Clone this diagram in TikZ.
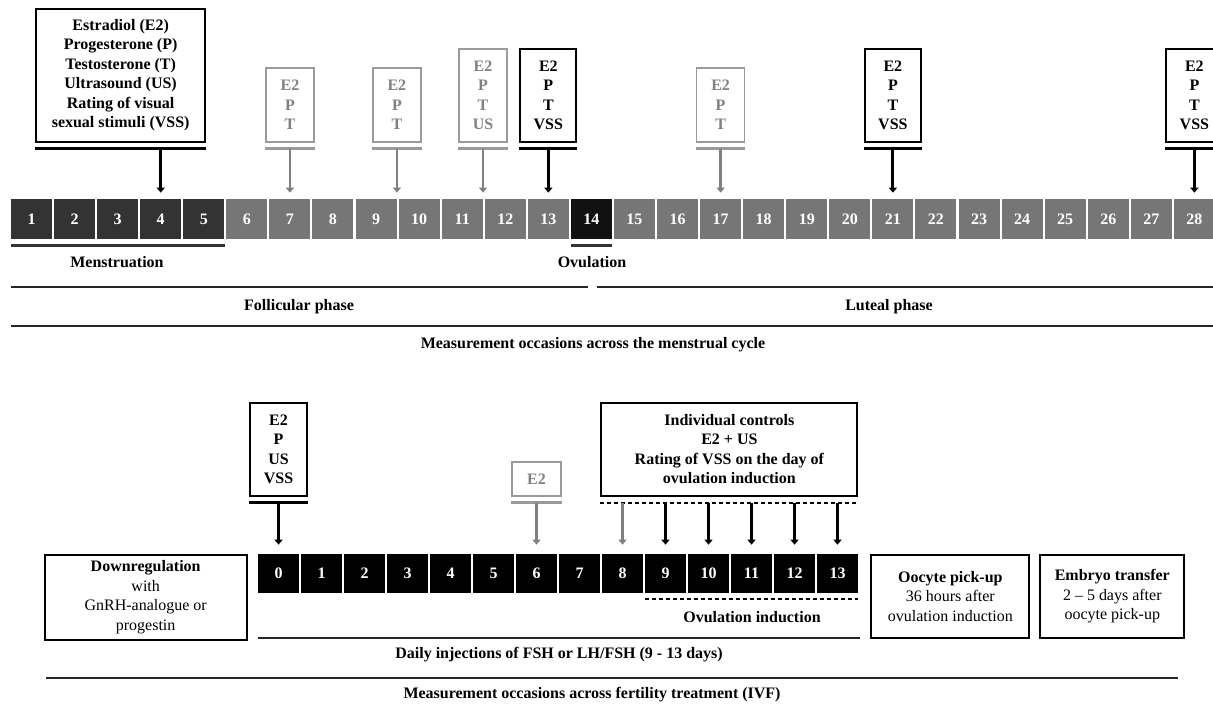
\documentclass[tikz,border=0pt]{standalone}
\usepackage{fontspec}
\setmainfont{Liberation Serif}
\usetikzlibrary{arrows.meta, positioning, calc}
\definecolor{menses}{HTML}{333333}
\definecolor{cycle}{HTML}{767676}
\definecolor{ovul}{HTML}{111111}
\definecolor{faint}{HTML}{9a9a9a}
\definecolor{faintText}{HTML}{808080}
\tikzset{
  dayCell/.style = {rectangle, minimum width=0.82cm, minimum height=0.8cm,
    inner sep=0pt, text=white, font=\bfseries},
  markBox/.style = {rectangle, draw=black, line width=0.04cm, minimum width=1.12cm,
    inner sep=0pt, align=center, font=\bfseries},
  faintBox/.style = {rectangle, draw=faint, line width=0.03cm, minimum width=0.96cm,
    inner sep=0pt, align=center, text=faintText, font=\bfseries},
  stepBox/.style = {rectangle, draw=black, line width=0.04cm, inner sep=0pt,
    align=center},
  phaseLbl/.style = {inner sep=0pt, font=\bfseries},
  barK/.style = {line width=0.06cm, draw=black},
  barG/.style = {line width=0.05cm, draw=faint},
  barDash/.style = {line width=0.04cm, draw=black, dash pattern=on 0.08cm off 0.06cm},
  lineK/.style = {line width=0.05cm, draw=black!85},
  arrK/.style = {-{Triangle[length=0.1cm, width=0.16cm]}, line width=0.06cm,
    draw=black, shorten <=0.12cm, shorten >=0.12cm},
  arrG/.style = {-{Triangle[length=0.1cm, width=0.16cm]}, line width=0.05cm,
    draw=faintText, fill=faintText, shorten <=0.12cm, shorten >=0.12cm},
}
\begin{document}
\fontsize{9.1}{11.1}\selectfont
\begin{tikzpicture}[x=0.02cm, y=-0.02cm]
\useasboundingbox (0,0) rectangle (1213,704);

% menstrual cycle
\foreach \d in {1,...,5}
  \node[dayCell, fill=menses] (c\d) at ({31.5+(\d-1)*43.07},219) {\d};
\foreach \d in {6,...,13}
  \node[dayCell, fill=cycle] (c\d) at ({31.5+(\d-1)*43.07},219) {\d};
\node[dayCell, fill=ovul] (c14) at ({31.5+13*43.07},219) {14};
\foreach \d in {15,...,28}
  \node[dayCell, fill=cycle] (c\d) at ({31.5+(\d-1)*43.07},219) {\d};

\node[markBox, minimum width=3.38cm, minimum height=2.66cm, above=1.12cm of c3, xshift=0.06cm] (vars)
  {Estradiol (E2)\\Progesterone (P)\\Testosterone (T)\\Ultrasound (US)\\Rating of visual\\sexual stimuli (VSS)};
\node[faintBox, minimum height=1.48cm, above=1.12cm of c7] (g7) {E2\\P\\T};
\node[faintBox, minimum height=1.48cm, above=1.12cm of c9.north east] (g9) {E2\\P\\T};
\node[faintBox, minimum height=1.86cm, above=1.12cm of c11.north east] (g11) {E2\\P\\T\\US};
\node[markBox, minimum height=1.86cm, above=1.12cm of c13] (k13) {E2\\P\\T\\VSS};
\node[faintBox, minimum height=1.48cm, above=1.12cm of c17] (g17) {E2\\P\\T};
\node[markBox, minimum height=1.86cm, above=1.12cm of c21] (k21) {E2\\P\\T\\VSS};
\node[markBox, minimum height=1.86cm, above=1.12cm of c28] (k28) {E2\\P\\T\\VSS};

\foreach \b in {vars,k13,k21,k28}
  \draw[barK] ([yshift=-0.12cm]\b.south west) -- ([yshift=-0.12cm]\b.south east);
\foreach \b in {g7,g9,g11,g17}
  \draw[barG] ([yshift=-0.12cm]\b.south west) -- ([yshift=-0.12cm]\b.south east);

\draw[arrK] (vars.south -| c4) -- (c4);
\draw[arrG] (g7) -- (c7);
\draw[arrG] (g9) -- (c9.north east);
\draw[arrG] (g11) -- (c11.north east);
\draw[arrK] (k13) -- (c13);
\draw[arrG] (g17) -- (c17);
\draw[arrK] (k21) -- (c21);
\draw[arrK] (k28) -- (c28);

\draw[lineK, draw=menses] ([yshift=-0.12cm]c1.south west) -- ([yshift=-0.12cm]c5.south east);
\draw[lineK, draw=menses] ([yshift=-0.12cm]c14.south west) -- ([yshift=-0.12cm]c14.south east);
\node[phaseLbl] (menLbl) at (117,262) {Menstruation};
\node[phaseLbl] (ovuLbl) at (592,262) {Ovulation};
\draw[lineK] (11,287) -- (588,287);
\draw[lineK] (597,287) -- (1215,287);
\node[phaseLbl] (follLbl) at (299,307) {Follicular phase};
\node[phaseLbl] (lutLbl) at (889,307) {Luteal phase};
\draw[lineK] (11,326) -- (1215,326);
\node[phaseLbl] (cycLbl) at (593,345) {Measurement occasions across the menstrual cycle};

% fertility treatment
\foreach \d in {0,...,13}
  \node[dayCell, fill=black, minimum height=0.78cm] (o\d) at ({278.5+\d*43},573.5) {\d};

\node[markBox, minimum width=1.14cm, minimum height=1.86cm, above=1.14cm of o0] (k0) {E2\\P\\US\\VSS};
\node[faintBox, minimum width=0.98cm, minimum height=0.68cm, above=1.14cm of o6] (g6) {E2};
\node[markBox, minimum width=5.12cm, minimum height=1.86cm, above=1.14cm of o10.north east] (ctrl)
  {Individual controls\\E2 + US\\Rating of VSS on the day of\\ovulation induction};

\draw[barK] ([yshift=-0.12cm]k0.south west) -- ([yshift=-0.12cm]k0.south east);
\draw[barG] ([yshift=-0.12cm]g6.south west) -- ([yshift=-0.12cm]g6.south east);
\draw[barDash] ([yshift=-0.12cm]ctrl.south west) -- ([yshift=-0.12cm]ctrl.south east);

\draw[arrK, shorten >=0.18cm] (k0) -- (o0);
\draw[arrG, shorten >=0.18cm] (g6) -- (o6);
\draw[arrG, shorten >=0.18cm] (ctrl.south -| o8) -- (o8);
\foreach \d in {9,...,13}
  \draw[arrK, shorten >=0.18cm] (ctrl.south -| o\d) -- (o\d);

\node[stepBox, minimum width=4.04cm, minimum height=1.7cm, left=0.2cm of o0.north west, anchor=north east] (down)
  {\textbf{Downregulation}\\with\\GnRH-analogue or\\progestin};
\node[stepBox, minimum width=3.16cm, minimum height=1.66cm, right=0.24cm of o13.north east, anchor=north west] (pick)
  {\textbf{Oocyte pick-up}\\36 hours after\\ovulation induction};
\node[stepBox, minimum width=2.88cm, minimum height=1.66cm, right=0.18cm of pick] (emb)
  {\textbf{Embryo transfer}\\2 -- 5 days after\\oocyte pick-up};

\draw[barDash] ([yshift=-0.12cm]o9.south west) -- ([yshift=-0.12cm]o13.south east);
\node[phaseLbl] (indLbl) at (752,617) {Ovulation induction};
\draw[lineK] (258,638) -- (860,638);
\node[phaseLbl] (injLbl) at (559,655) {Daily injections of FSH or LH/FSH (9 - 13 days)};
\draw[lineK] (46,678) -- (1178,678);
\node[phaseLbl] (ivfLbl) at (592,695) {Measurement occasions across fertility treatment (IVF)};
\end{tikzpicture}
\end{document}
